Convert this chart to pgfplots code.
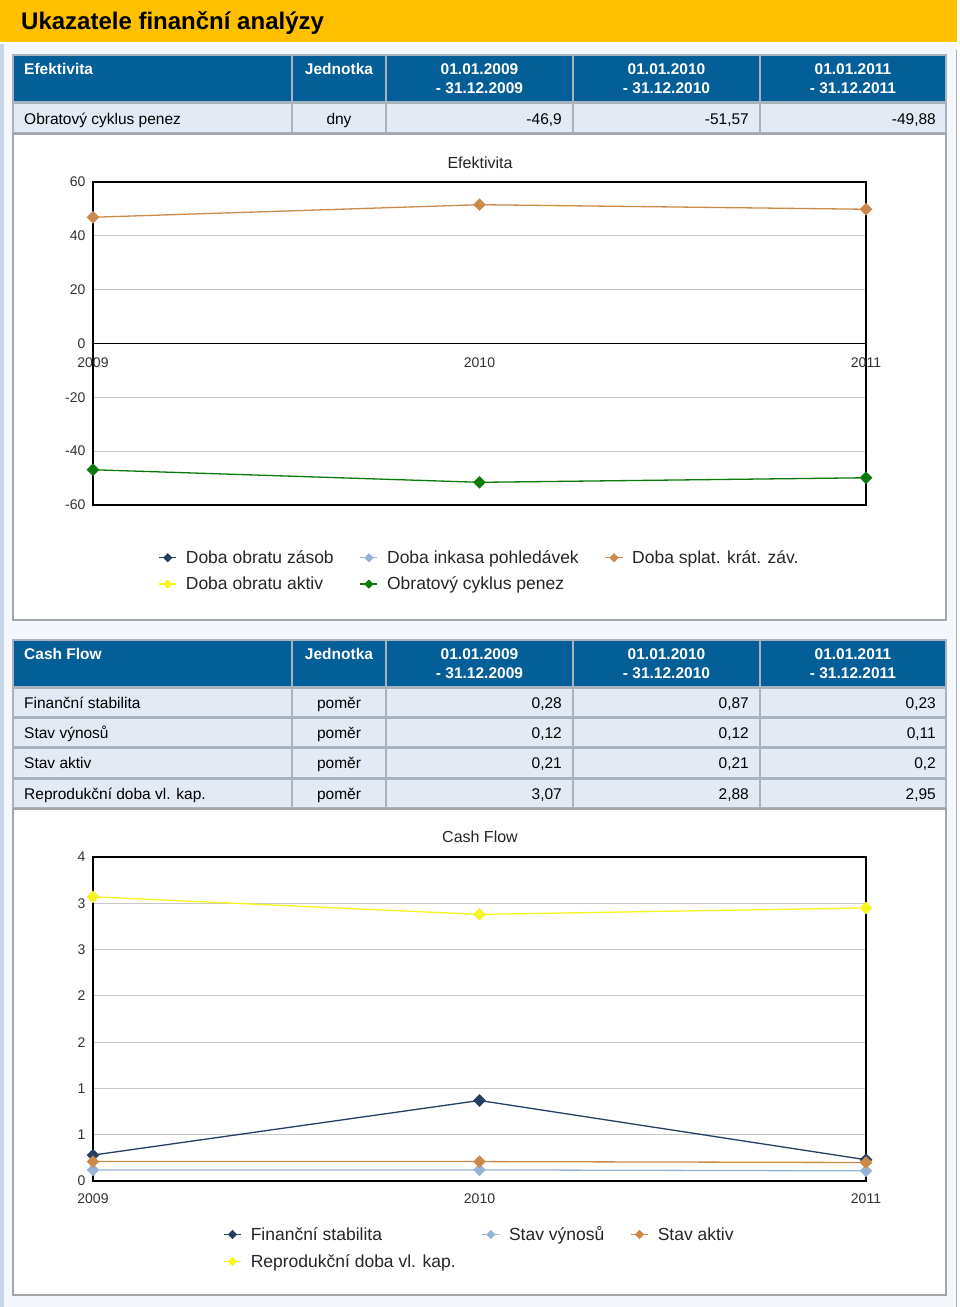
\documentclass[border=0pt]{standalone}
\usepackage{fontspec}
\setmainfont{Liberation Sans}
\usepackage{pgfplots}
\pgfplotsset{compat=1.18}
\definecolor{titleyellow}{HTML}{FFC000}
\definecolor{hdrblue}{HTML}{045E98}
\definecolor{rowfill}{HTML}{E3EAF4}
\definecolor{cellline}{HTML}{A8B3BF}
\definecolor{panelline}{HTML}{A3A7AB}
\definecolor{outerbg}{HTML}{F4F7FB}
\definecolor{outerline}{HTML}{C5D4E6}
\definecolor{navy}{HTML}{243F60}
\definecolor{ltblue}{HTML}{95B3D7}
\definecolor{orng}{HTML}{CC8A4A}
\definecolor{yel}{HTML}{F5F51F}
\definecolor{grn}{HTML}{0A7A0A}
\newcommand\fs[1]{\fontsize{#1}{#1}\selectfont}
\newcommand\cellbox[5]{\filldraw[fill=#5, draw=cellline, line width=1.5pt] (#1,-#2) rectangle (#3,-#4);}
\newcommand\datarow[5]{%
  \node[anchor=base west] at (24,-#1) {#2};
  \node[anchor=base] at (339,-#1) {poměr};
  \node[anchor=base east] at (562,-#1) {#3};
  \node[anchor=base east] at (749,-#1) {#4};
  \node[anchor=base east] at (936,-#1) {#5};}

\pgfplotsset{
  fincharts/.style={
    scale only axis, width=773pt,
    axis line style={black, line width=1.2pt},
    ymajorgrids, grid style={draw=black!22, line width=1.2pt},
    xtick style={draw=none}, ytick style={draw=none},
    tick label style={font=\fs{14}, text=black!80},
    yticklabel style={xshift=-4pt},
    /pgf/number format/assume math mode=true,
    xmin=2009, xmax=2011, xtick={2009,2010,2011}, xticklabels={2009,2010,2011},
    legend columns=3,
    legend style={draw=none, fill=none, font=\fs{17.5}, text=black!85,
      anchor=north, at={(0.5,-0.128)}, row sep=8pt,
      /tikz/every odd column/.append style={column sep=7pt},
      /tikz/every even column/.append style={column sep=24pt}},
    legend cell align=left,
    every axis plot/.append style={line width=1.3pt, mark=square*, mark size=3.8pt, mark options={rotate=45, solid}},
    legend image post style={mark size=2.6pt},
    clip=false,
  }
}

\begin{document}
\begin{tikzpicture}[x=1pt,y=1pt]
\useasboundingbox (0,0) rectangle (960,-1307);
\fill[white] (0,0) rectangle (960,-1307);
% outer frame
\fill[outerbg] (0,-44) rectangle (957,-1307);
\draw[outerline, line width=4pt] (2,-44) -- (2,-1307);
\draw[black!30, line width=1pt] (956,-50) -- (956,-1307);
% title bar
\fill[titleyellow] (0,0) rectangle (957,-42);
\node[anchor=base west, inner sep=0, font=\bfseries\fs{24}] at (21,-29) {Ukazatele finanční analýzy};

% ---------- table 1
\foreach \a/\b in {13/292,292/386,386/573,573/760,760/946} {\cellbox{\a}{55}{\b}{102}{hdrblue}}
\foreach \a/\b in {13/292,292/386,386/573,573/760,760/946} {\cellbox{\a}{103}{\b}{133}{rowfill}}
\begin{scope}[every node/.style={inner sep=0, font=\fs{15.5}}]
\node[anchor=base west, white, font=\bfseries\fs{15.5}] at (24,-74) {Efektivita};
\node[anchor=base, white, font=\bfseries\fs{15.5}] at (339,-74) {Jednotka};
\node[anchor=base, white, font=\bfseries\fs{15.5}] at (479.5,-74) {01.01.2009};
\node[anchor=base, white, font=\bfseries\fs{15.5}] at (479.5,-93) {- 31.12.2009};
\node[anchor=base, white, font=\bfseries\fs{15.5}] at (666.5,-74) {01.01.2010};
\node[anchor=base, white, font=\bfseries\fs{15.5}] at (666.5,-93) {- 31.12.2010};
\node[anchor=base, white, font=\bfseries\fs{15.5}] at (853,-74) {01.01.2011};
\node[anchor=base, white, font=\bfseries\fs{15.5}] at (853,-93) {- 31.12.2011};
\node[anchor=base west] at (24,-124) {Obratový cyklus penez};
\node[anchor=base] at (339,-124) {dny};
\node[anchor=base east] at (562,-124) {-46,9};
\node[anchor=base east] at (749,-124) {-51,57};
\node[anchor=base east] at (936,-124) {-49,88};
\end{scope}
% panel 1
\filldraw[fill=white, draw=panelline, line width=1.5pt] (13,-134) rectangle (946,-620);
\node[font=\fs{16}, text=black!85] at (480,-163) {Efektivita};

\begin{axis}[fincharts,
  at={(93pt,-505pt)}, anchor=south west, height=323pt,
  ymin=-60, ymax=60, ytick={-60,-40,-20,0,20,40,60},
  yticklabels={-60,-40,-20,0,20,40,60},
  xticklabel style={yshift=151pt},
  extra y ticks={0}, extra y tick labels={},
  extra y tick style={grid style={draw=black, line width=1.2pt}},
]
\addlegendimage{navy, line width=1.3pt, mark=square*, mark size=2.6pt, mark options={rotate=45,solid}}
\addlegendentry{Doba obratu zásob}
\addlegendimage{ltblue, line width=1.3pt, mark=square*, mark size=2.6pt, mark options={rotate=45,solid}}
\addlegendentry{Doba inkasa pohledávek}
\addplot[orng] coordinates {(2009,46.9) (2010,51.57) (2011,49.88)};
\addlegendentry{Doba splat. krát. záv.}
\addlegendimage{yel, line width=1.3pt, mark=square*, mark size=2.6pt, mark options={rotate=45,solid}}
\addlegendentry{Doba obratu aktiv}
\addplot[grn] coordinates {(2009,-46.9) (2010,-51.57) (2011,-49.88)};
\addlegendentry{Obratový cyklus penez}
\end{axis}

% ---------- table 2
\foreach \a/\b in {13/292,292/386,386/573,573/760,760/946} {\cellbox{\a}{640}{\b}{687}{hdrblue}}
\foreach \t/\u in {688/717,718/747,748/778,779/808}{
  \foreach \a/\b in {13/292,292/386,386/573,573/760,760/946} {\cellbox{\a}{\t}{\b}{\u}{rowfill}}}
\begin{scope}[every node/.style={inner sep=0, font=\fs{15.5}}]
\node[anchor=base west, white, font=\bfseries\fs{15.5}] at (24,-659) {Cash Flow};
\node[anchor=base, white, font=\bfseries\fs{15.5}] at (339,-659) {Jednotka};
\node[anchor=base, white, font=\bfseries\fs{15.5}] at (479.5,-659) {01.01.2009};
\node[anchor=base, white, font=\bfseries\fs{15.5}] at (479.5,-678) {- 31.12.2009};
\node[anchor=base, white, font=\bfseries\fs{15.5}] at (666.5,-659) {01.01.2010};
\node[anchor=base, white, font=\bfseries\fs{15.5}] at (666.5,-678) {- 31.12.2010};
\node[anchor=base, white, font=\bfseries\fs{15.5}] at (853,-659) {01.01.2011};
\node[anchor=base, white, font=\bfseries\fs{15.5}] at (853,-678) {- 31.12.2011};
\datarow{708}{Finanční stabilita}{0,28}{0,87}{0,23}
\datarow{738}{Stav výnosů}{0,12}{0,12}{0,11}
\datarow{768}{Stav aktiv}{0,21}{0,21}{0,2}
\datarow{799}{Reprodukční doba vl. kap.}{3,07}{2,88}{2,95}
\end{scope}
% panel 2
\filldraw[fill=white, draw=panelline, line width=1.5pt] (13,-809) rectangle (946,-1295);
\node[font=\fs{16}, text=black!85] at (480,-837) {Cash Flow};

\begin{axis}[fincharts,
  at={(93pt,-1181pt)}, anchor=south west, height=324pt,
  ymin=0, ymax=3.5, ytick={0,0.5,1,1.5,2,2.5,3,3.5},
  yticklabels={0,1,1,2,2,3,3,4},
  xticklabel style={yshift=-9pt},
]
\addplot[navy] coordinates {(2009,0.28) (2010,0.87) (2011,0.23)};
\addlegendentry{Finanční stabilita}
\addplot[ltblue] coordinates {(2009,0.12) (2010,0.12) (2011,0.11)};
\addlegendentry{Stav výnosů}
\addplot[orng] coordinates {(2009,0.21) (2010,0.21) (2011,0.2)};
\addlegendentry{Stav aktiv}
\addplot[yel] coordinates {(2009,3.07) (2010,2.88) (2011,2.95)};
\addlegendentry{Reprodukční doba vl. kap.}
\end{axis}
\end{tikzpicture}
\end{document}
